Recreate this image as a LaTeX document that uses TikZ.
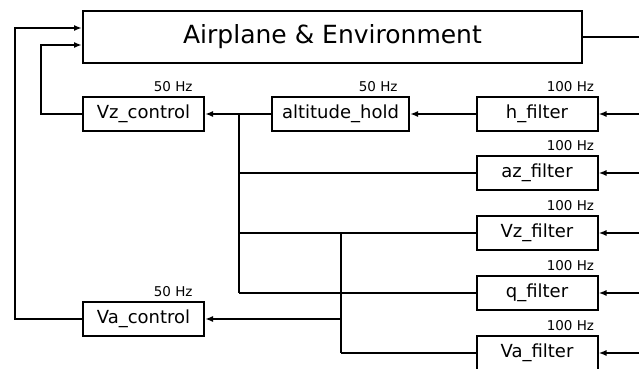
\documentclass[tikz,border=0pt]{standalone}
\usepackage{fontspec}
\setmainfont{DejaVu Sans}
\usetikzlibrary{arrows.meta}

\tikzset{
  blk/.style={draw, line width=1pt, inner sep=0pt, minimum width=60.5pt, minimum height=17pt, font=\fontsize{9}{10}\selectfont},
  rate/.style={anchor=south east, inner sep=2pt, font=\fontsize{6.75}{8}\selectfont},
  slow/.style={rate, xshift=-4pt},
  sig/.style={-{Latex[length=4pt,width=3pt]}, line width=1pt},
  wire/.style={line width=1pt}
}

\begin{document}
\begin{tikzpicture}[x=0.5pt,y=-0.5pt]
    \useasboundingbox (0,0) rectangle (639,369);

    \node[blk, minimum width=249.5pt, minimum height=26pt, font=\fontsize{12.5}{15}\selectfont] (plant) at (332.5,37) {Airplane \& Environment};

    \node[blk] (vzc) at (143.5,114) {Vz\_control};
    \node[blk, minimum width=68.5pt] (alt) at (340.5,114) {altitude\_hold};
    \node[blk] (hf) at (537,114) {h\_filter};
    \node[blk] (azf) at (537,173) {az\_filter};
    \node[blk] (vzf) at (537,233) {Vz\_filter};
    \node[blk] (qf) at (537,293) {q\_filter};
    \node[blk] (vaf) at (537,353) {Va\_filter};
    \node[blk] (vac) at (143.5,319) {Va\_control};

    \node[slow] (vzcr) at (vzc.north east) {50 Hz};
    \node[slow] (altr) at (alt.north east) {50 Hz};
    \node[rate] (hfr) at (hf.north east) {100 Hz};
    \node[rate] (azfr) at (azf.north east) {100 Hz};
    \node[rate] (vzfr) at (vzf.north east) {100 Hz};
    \node[rate] (qfr) at (qf.north east) {100 Hz};
    \node[rate] (vafr) at (vaf.north east) {100 Hz};
    \node[slow] (vacr) at (vac.north east) {50 Hz};

    % plant output and sensor inputs from the right edge
    \coordinate (out) at (639,37);
    \draw[wire] (plant.east) -- (out);
    \foreach \f in {hf,azf,vzf,qf,vaf}
        \draw[sig] (639,0 |- \f.east) -- (\f.east);

    % altitude loop
    \draw[sig] (hf.west) -- (alt.east);
    \draw[sig] (alt.west) -- (vzc.east);
    \coordinate (busa) at (239,114);
    \coordinate (busb) at (341,233);
    \draw[wire] (busa) -- (busa |- qf.west);
    \draw[wire] (azf.west) -- (busa |- azf.west);
    \draw[wire] (vzf.west) -- (busa |- vzf.west);
    \draw[wire] (qf.west) -- (busa |- qf.west);

    % airspeed loop
    \draw[wire] (busb) -- (busb |- vaf.west);
    \draw[wire] (vaf.west) -- (busb |- vaf.west);
    \draw[sig] (busb |- vac.east) -- (vac.east);

    % commands back to the plant
    \draw[sig] (vzc.west) -- (41,114) -- (41,45) -- (plant.west |- 0,45);
    \draw[sig] (vac.west) -- (15,319) -- (15,28) -- (plant.west |- 0,28);
\end{tikzpicture}
\end{document}
